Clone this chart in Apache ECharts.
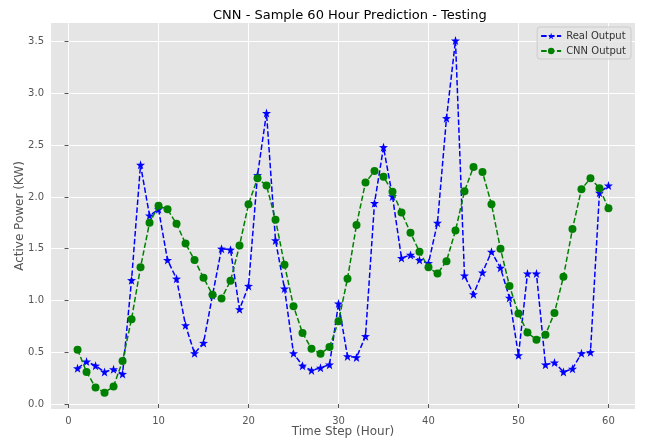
<!DOCTYPE html>
<html>
<head>
<meta charset="utf-8">
<script src="https://cdn.jsdelivr.net/npm/echarts@6/dist/echarts.min.js"></script>
<style>
  html, body { margin: 0; padding: 0; background: #fff; }
  #chart { width: 647px; height: 443px; }
</style>
</head>
<body>
<div id="chart"></div>
<script>
// hours 1..60
const hours = [
  1, 2, 3, 4, 5, 6, 7, 8, 9, 10, 11, 12, 13, 14, 15, 16, 17, 18, 19, 20,
  21, 22, 23, 24, 25, 26, 27, 28, 29, 30, 31, 32, 33, 34, 35, 36, 37, 38, 39, 40,
  41, 42, 43, 44, 45, 46, 47, 48, 49, 50, 51, 52, 53, 54, 55, 56, 57, 58, 59, 60
];

const realOutput = [
  0.345, 0.41, 0.37, 0.31, 0.335, 0.29, 1.196, 2.31, 1.82, 1.88,
  1.39, 1.21, 0.76, 0.49, 0.59, 1.05, 1.50, 1.49, 0.915, 1.14,
  2.21, 2.81, 1.58, 1.115, 0.49, 0.37, 0.325, 0.35, 0.38, 0.97,
  0.46, 0.45, 0.655, 1.94, 2.48, 2.005, 1.41, 1.44, 1.39, 1.36,
  1.75, 2.76, 3.51, 1.24, 1.06, 1.27, 1.47, 1.315, 1.025, 0.47,
  1.26, 1.26, 0.38, 0.40, 0.31, 0.34, 0.49, 0.50, 2.04, 2.11
];

const cnnOutput = [
  0.525, 0.31, 0.16, 0.11, 0.17, 0.415, 0.82, 1.32, 1.75, 1.915,
  1.88, 1.74, 1.55, 1.39, 1.22, 1.055, 1.02, 1.19, 1.53, 1.93,
  2.18, 2.11, 1.78, 1.345, 0.945, 0.687, 0.535, 0.485, 0.55, 0.80,
  1.21, 1.73, 2.14, 2.25, 2.195, 2.05, 1.85, 1.655, 1.47, 1.32,
  1.26, 1.38, 1.675, 2.055, 2.29, 2.24, 1.93, 1.50, 1.14, 0.875,
  0.69, 0.62, 0.67, 0.88, 1.23, 1.69, 2.075, 2.18, 2.085, 1.89
];

const xTicks = [0, 10, 20, 30, 40, 50, 60];
const yTicks = [0, 0.5, 1.0, 1.5, 2.0, 2.5, 3.0, 3.5];

const STAR = 'path://M0,-10 L2.35,-3.24 L9.51,-3.09 L3.8,1.24 L5.88,8.09 L0,4 L-5.88,8.09 L-3.8,1.24 L-9.51,-3.09 L-2.35,-3.24 Z';
const FONT = 'DejaVu Sans';
const dash = [5.5, 2.4];

const chart = echarts.init(document.getElementById('chart'), null, { renderer: 'canvas' });

const axisCommon = {
  axisLine: { show: false },
  axisTick: { show: true, length: 4, lineStyle: { color: '#555', width: 1 } },
  axisLabel: { color: '#555', fontFamily: FONT, fontSize: 10, margin: 7 },
  splitLine: { show: true, lineStyle: { color: '#fff', width: 1 } },
  nameMoveOverlap: false,
  nameTextStyle: { color: '#555', fontFamily: FONT, fontSize: 12 }
};

chart.setOption({
  backgroundColor: '#fff',
  animation: false,
  title: {
    text: 'CNN - Sample 60 Hour Prediction - Testing',
    left: 208,
    top: 4,
    textStyle: { color: '#000', fontFamily: FONT, fontSize: 13, fontWeight: 'normal' }
  },
  grid: {
    left: 51, right: 12, top: 23, bottom: 34,
    outerBoundsMode: 'none',
    containLabel: false,
    show: true, backgroundColor: '#e5e5e5', borderWidth: 0
  },
  legend: {
    orient: 'vertical',
    right: 16,
    top: 27,
    padding: [4, 5, 3, 3],
    itemGap: 5,
    itemWidth: 20,
    itemHeight: 8,
    backgroundColor: 'rgba(229,229,229,0.8)',
    borderColor: '#ccc',
    borderWidth: 1,
    borderRadius: 3,
    textStyle: { color: '#333', fontFamily: FONT, fontSize: 10 },
    data: ['Real Output', 'CNN Output']
  },
  xAxis: {
    ...axisCommon,
    type: 'value',
    min: -1.95,
    max: 62.95,
    name: 'Time Step (Hour)',
    nameLocation: 'middle',
    nameGap: 17,
    axisTick: { ...axisCommon.axisTick, customValues: xTicks },
    axisLabel: { ...axisCommon.axisLabel, customValues: xTicks }
  },
  yAxis: {
    ...axisCommon,
    type: 'value',
    min: -0.048,
    max: 3.68,
    name: 'Active Power (KW)',
    nameLocation: 'middle',
    nameGap: 25,
    axisTick: { ...axisCommon.axisTick, customValues: yTicks },
    axisLabel: { ...axisCommon.axisLabel, customValues: yTicks, formatter: v => v.toFixed(1) }
  },
  series: [
    {
      name: 'Real Output',
      type: 'line',
      data: hours.map((h, i) => [h, realOutput[i]]),
      symbol: STAR,
      symbolSize: 9,
      showAllSymbol: true,
      color: '#0000ff',
      lineStyle: { color: '#0000ff', width: 1.5, type: dash },
      itemStyle: { color: '#0000ff' },
      z: 2
    },
    {
      name: 'CNN Output',
      type: 'line',
      data: hours.map((h, i) => [h, cnnOutput[i]]),
      symbol: 'circle',
      symbolSize: 8,
      showAllSymbol: true,
      color: '#008000',
      lineStyle: { color: '#008000', width: 1.5, type: dash },
      itemStyle: { color: '#008000' },
      z: 3
    }
  ]
});
</script>
</body>
</html>
